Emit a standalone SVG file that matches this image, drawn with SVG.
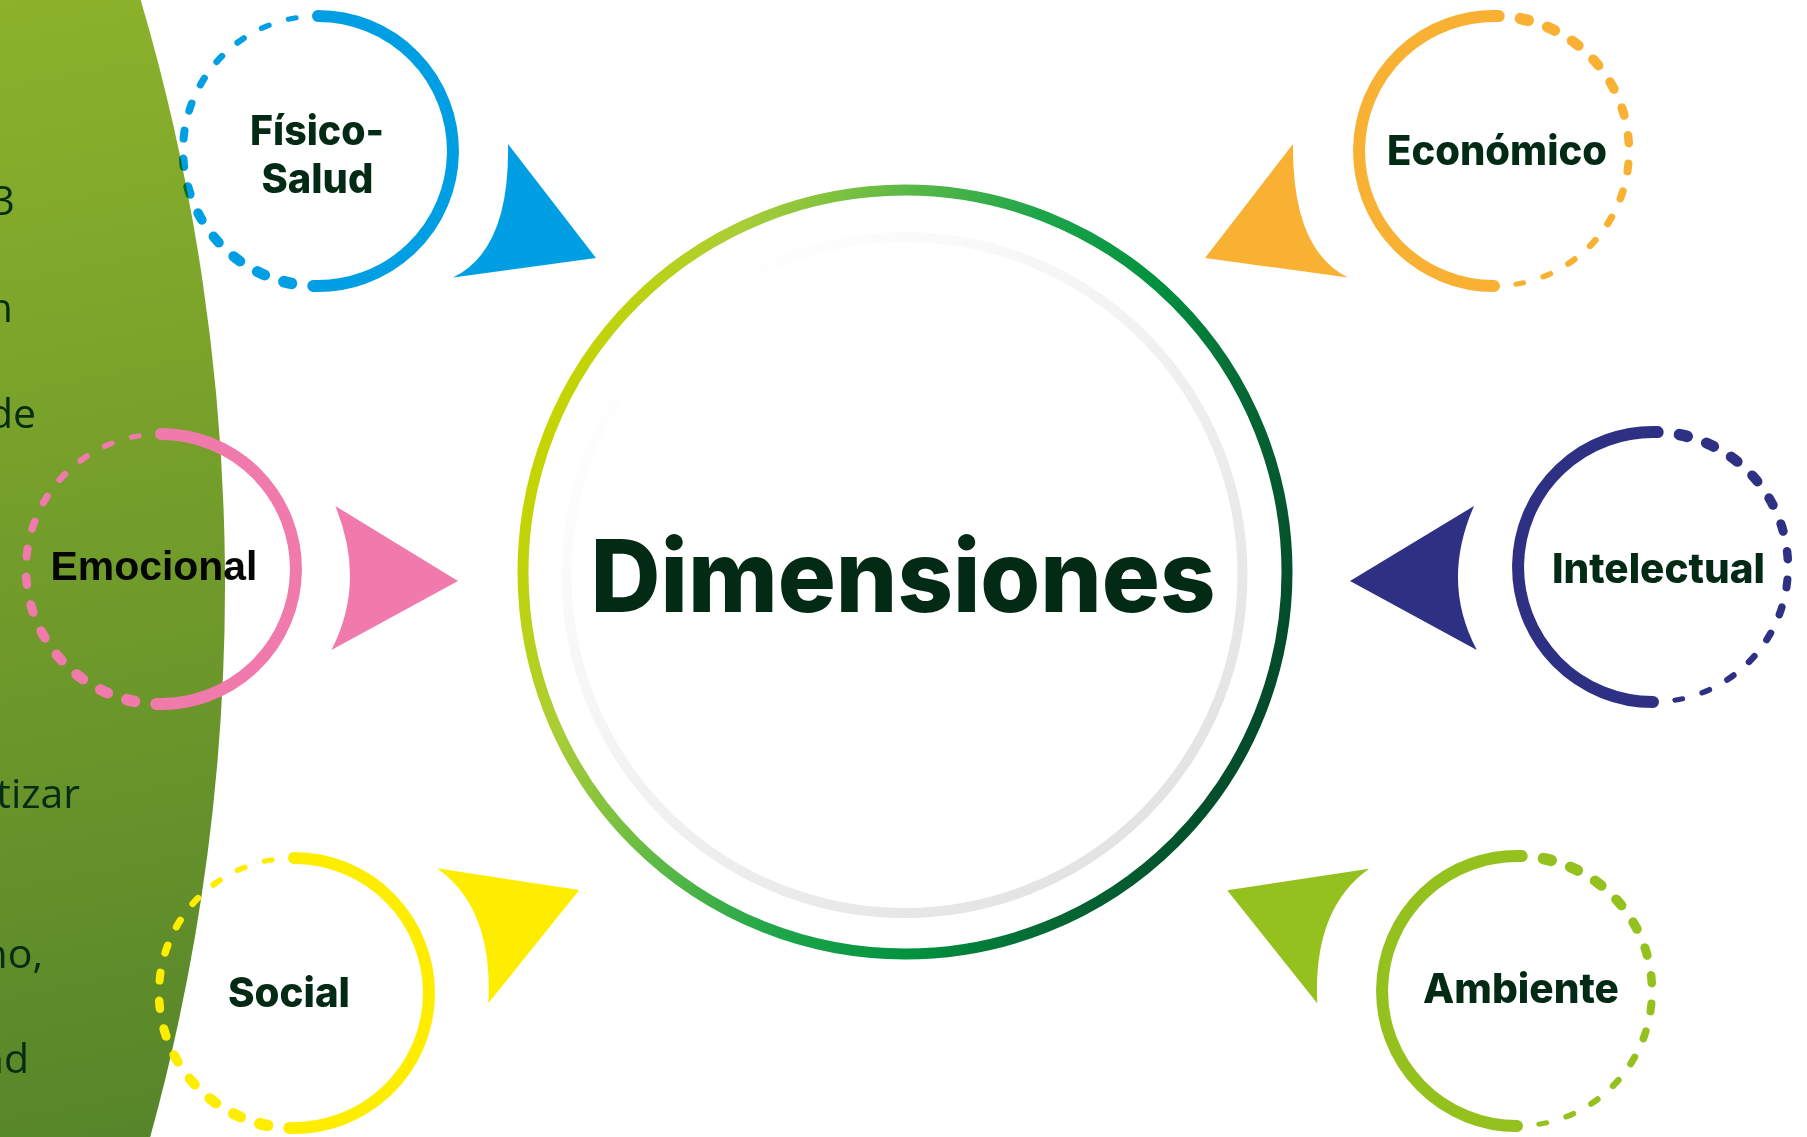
<svg xmlns="http://www.w3.org/2000/svg" xmlns:xlink="http://www.w3.org/1999/xlink" width="1807" height="1137" viewBox="0 0 1807 1137">
<style>
.lbl{font-family:Inter,"Liberation Sans",sans-serif;font-weight:800;font-size:41px;fill:#032a15;text-anchor:middle}
.side{font-family:"Open Sans","Liberation Sans",sans-serif;font-weight:400;font-size:41px;fill:#062c14;text-anchor:end}
.title{font-family:Inter,"Liberation Sans",sans-serif;font-weight:800;font-size:100px;fill:#032a15;text-anchor:middle}
.dash{stroke-dasharray:8 1000}
</style>
<defs>
<linearGradient id="bgGreen" gradientUnits="userSpaceOnUse" x1="0" y1="0" x2="224" y2="1137">
<stop offset="0" stop-color="#8cb22b"/>
<stop offset="1" stop-color="#56852a"/>
</linearGradient>
<linearGradient id="ringGrad" gradientUnits="userSpaceOnUse" x1="541" y1="440" x2="1269" y2="704">
<stop offset="0" stop-color="#c6d500"/>
<stop offset="0.15" stop-color="#a9cd36"/>
<stop offset="0.33" stop-color="#5db947"/>
<stop offset="0.5" stop-color="#1fa64a"/>
<stop offset="0.68" stop-color="#00913f"/>
<stop offset="0.82" stop-color="#056b35"/>
<stop offset="1" stop-color="#034a2a"/>
</linearGradient>
<linearGradient id="grayGrad" gradientUnits="userSpaceOnUse" x1="660" y1="320" x2="1150" y2="860">
<stop offset="0" stop-color="#ffffff"/>
<stop offset="1" stop-color="#e2e2e2"/>
</linearGradient>
<g id="ring" fill="none" stroke="currentColor" stroke-linecap="round">
<path d="M0,-135 A135,135 0 1 1 -4.71,134.92" stroke-width="12"/>
<circle class="dash" r="135" transform="rotate(101.3)" stroke-width="11.5"/>
<circle class="dash" r="135" transform="rotate(113.3)" stroke-width="11"/>
<circle class="dash" r="135" transform="rotate(125.3)" stroke-width="10.5"/>
<circle class="dash" r="135" transform="rotate(137.3)" stroke-width="10"/>
<circle class="dash" r="135" transform="rotate(149.3)" stroke-width="9.5"/>
<circle class="dash" r="135" transform="rotate(161.3)" stroke-width="9"/>
<circle class="dash" r="135" transform="rotate(173.3)" stroke-width="8.5"/>
<circle class="dash" r="135" transform="rotate(185.3)" stroke-width="8"/>
<circle class="dash" r="135" transform="rotate(197.3)" stroke-width="7.5"/>
<circle class="dash" r="135" transform="rotate(209.3)" stroke-width="7"/>
<circle class="dash" r="135" transform="rotate(221.3)" stroke-width="6.5"/>
<circle class="dash" r="135" transform="rotate(233.3)" stroke-width="6"/>
<circle class="dash" r="135" transform="rotate(245.3)" stroke-width="5.5"/>
<circle class="dash" r="135" transform="rotate(257.3)" stroke-width="5"/>
</g>
</defs>
<rect width="1807" height="1137" fill="#ffffff"/>
<g id="background">
<path d="M0,0 L140.7,0 A2073,2073 0 0 1 150.2,1137 L0,1137 Z" fill="url(#bgGreen)"/>
<text class="side" x="15" y="215">3</text>
<text class="side" x="13" y="322">n</text>
<text class="side" x="36" y="428">de</text>
<text class="side" x="80" y="808">tizar</text>
<text class="side" x="43" y="968">no,</text>
<text class="side" x="29" y="1073">nd</text>
</g>
<g id="connectors">
<path d="M508,144 L596,258 L453,277.5 Q510,250 508,144 Z" fill="#009fe3"/>
<path d="M1293,144 L1205,258 L1348,277.5 Q1292,250 1293,144 Z" fill="#f8b133"/>
<path d="M335.3,506 L458,581 L331.4,650 Q366.6,582 335.3,506 Z" fill="#ef7aab"/>
<path d="M1474,506 L1350,581 L1476.8,650 Q1440.6,582 1474,506 Z" fill="#2e3083"/>
<path d="M437,868.3 L579.3,890 L488.3,1003.3 Q493.4,908.2 437,868.3 Z" fill="#ffed00"/>
<path d="M1369.2,868.7 L1227.2,890.3 L1317.2,1003.3 Q1312.9,908.2 1369.2,868.7 Z" fill="#95c11f"/>
</g>
<g id="node-dimensiones">
<circle cx="904.5" cy="575" r="338" fill="none" stroke="url(#grayGrad)" stroke-width="10"/>
<circle cx="905" cy="572" r="382" fill="none" stroke="url(#ringGrad)" stroke-width="11"/>
<text class="title" x="903" y="612" textLength="625" lengthAdjust="spacingAndGlyphs">Dimensiones</text>
</g>
<g id="node-fisico-salud">
<use href="#ring" transform="translate(318,151)" color="#009fe3" style="mix-blend-mode:multiply"/>
<text class="lbl" x="317" y="145" textLength="134" lengthAdjust="spacingAndGlyphs">Físico-</text>
<text class="lbl" x="317.4" y="193" textLength="112" lengthAdjust="spacingAndGlyphs">Salud</text>
</g>
<g id="node-economico">
<use href="#ring" transform="translate(1494,151) rotate(180)" color="#f8b133"/>
<text class="lbl" x="1497" y="164.5" textLength="220" lengthAdjust="spacingAndGlyphs">Económico</text>
</g>
<g id="node-emocional">
<use href="#ring" transform="translate(161,569)" color="#ef7aab"/>
<text class="lbl" x="154" y="579.5" textLength="207" lengthAdjust="spacingAndGlyphs" style="fill:#050505;font-family:'Liberation Sans',Arial,sans-serif;font-weight:700">Emocional</text>
</g>
<g id="node-intelectual">
<use href="#ring" transform="translate(1653,567) rotate(180)" color="#2e3083"/>
<text class="lbl" x="1658.5" y="583" textLength="213" lengthAdjust="spacingAndGlyphs">Intelectual</text>
</g>
<g id="node-social">
<use href="#ring" transform="translate(294,993)" color="#ffed00"/>
<text class="lbl" x="289" y="1006.5" textLength="122" lengthAdjust="spacingAndGlyphs">Social</text>
</g>
<g id="node-ambiente">
<use href="#ring" transform="translate(1517,991) rotate(180)" color="#95c11f"/>
<text class="lbl" x="1521" y="1002.5" textLength="196" lengthAdjust="spacingAndGlyphs">Ambiente</text>
</g>
</svg>
